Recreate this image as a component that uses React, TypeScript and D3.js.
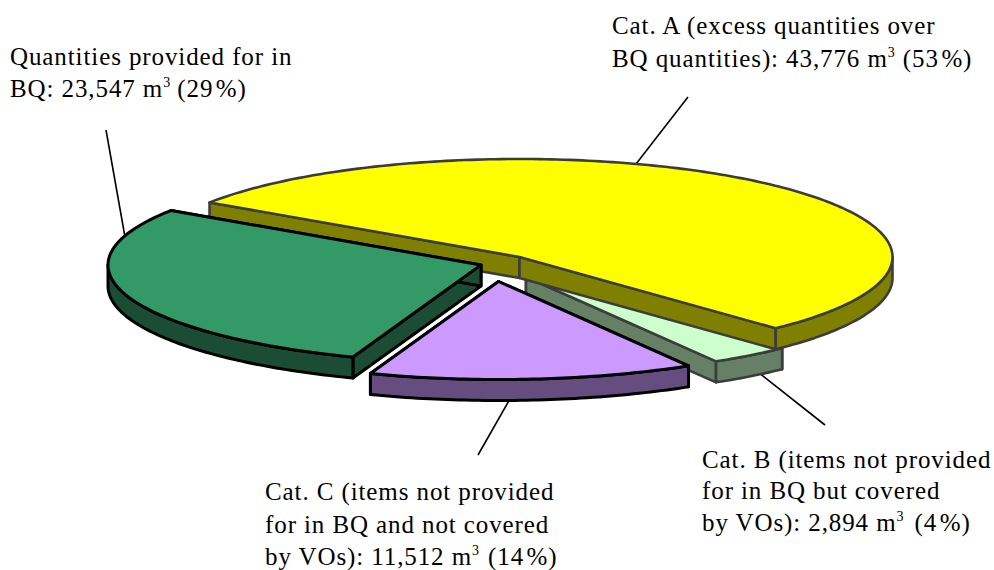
import React from "react";
import * as d3 from "d3";

// Concrete quantities by category, clockwise from Cat. A
const categories = ["Cat. A", "Cat. B", "Cat. C", "BQ"];
const quantities = [43776, 2894, 11512, 23547];
const percents = [53, 4, 14, 29];
const topFills = ["#FFFF00", "#CCFFCC", "#CC99FF", "#339966"];
const sideFills = ["#808000", "#668066", "#664D80", "#1A4D33"];
const edgeColors = ["#3C3C3C", "#3C3C3C", "#000000", "#000000"];
const edgeWidths = [2.6, 2.6, 3, 3];

const labelLead: string[][] = [
  ["Cat. A (excess quantities over", "BQ quantities): "],
  ["Cat. B (items not provided", "for in BQ but covered", "by VOs): "],
  ["Cat. C (items not provided", "for in BQ and not covered", "by VOs): "],
  ["Quantities provided for in", "BQ: "],
];

// Layout of the tilted pie
const W = 994;
const H = 570;
const RX = 373;
const RY = 98;
const DEPTH = 21;
const START = (-146.2 * Math.PI) / 180;
const apexes: [number, number][] = [
  [519.5, 257],
  [526, 277],
  [498.5, 281.5],
  [481, 265],
];
const labelAnchors: [number, number][] = [
  [612, 34],
  [702, 468],
  [265, 500],
  [10, 65],
];
const lineGaps = [33, 31.3, 32.5, 32];
const parenShift = [0, 3, 1, -1];
const leaders: [number, number, number, number][] = [
  [688, 97, 636, 164],
  [758, 372, 825, 425],
  [511, 397, 478, 455],
  [106, 130, 125, 237],
];

const sx = d3.scaleLinear().domain([-1, 1]).range([-RX, RX]);
const sy = d3.scaleLinear().domain([-1, 1]).range([-RY, RY]);
const polyline = d3.line<[number, number]>();

const slices = d3
  .pie<number>()
  .sort(null)
  .startAngle(START)
  .endAngle(START + 2 * Math.PI)(quantities);

function rimPoints(i: number, a0: number, a1: number, dy = 0): [number, number][] {
  const [cx, cy] = apexes[i];
  const n = Math.max(2, Math.ceil(Math.abs(a1 - a0) * 60));
  return d3.range(n + 1).map((k) => {
    const a = a0 + ((a1 - a0) * k) / n;
    return [cx + sx(Math.cos(a)), cy + sy(Math.sin(a)) + dy] as [number, number];
  });
}

function Slice({ i }: { i: number }) {
  const { startAngle: a0, endAngle: a1 } = slices[i];
  const [cx, cy] = apexes[i];
  const apex: [number, number] = [cx, cy];
  const apexLow: [number, number] = [cx, cy + DEPTH];
  const rim = rimPoints(i, a0, a1);
  const first = rim[0];
  const last = rim[rim.length - 1];
  const low = (p: [number, number]): [number, number] => [p[0], p[1] + DEPTH];

  // The outer wall only shows along the front half of the ellipse
  const f0 = Math.max(a0, 0);
  const f1 = Math.min(a1, Math.PI);
  const wall = f1 > f0 ? [...rimPoints(i, f0, f1), ...rimPoints(i, f1, f0, DEPTH)] : null;

  const common = {
    stroke: edgeColors[i],
    strokeWidth: edgeWidths[i],
    strokeLinejoin: "round" as const,
  };
  return (
    <g>
      <path d={polyline([apex, first, low(first), apexLow])! + "Z"} fill={sideFills[i]} {...common} />
      <path d={polyline([apex, last, low(last), apexLow])! + "Z"} fill={sideFills[i]} {...common} />
      {wall && <path d={polyline(wall)! + "Z"} fill={sideFills[i]} {...common} />}
      <path d={polyline([apex, ...rim])! + "Z"} fill={topFills[i]} {...common} />
    </g>
  );
}

function Label({ i }: { i: number }) {
  const [x, y] = labelAnchors[i];
  const lead = labelLead[i];
  const last = lead.length - 1;
  const gap = lineGaps[i];
  return (
    <text
      x={x}
      y={y}
      fontFamily="'Liberation Serif', serif"
      fontSize={25}
      fill="#000"
      style={{ letterSpacing: "0.9px", whiteSpace: "pre" }}
    >
      {lead.map((line, k) =>
        k < last ? (
          <tspan key={k} x={x} y={y + k * gap}>
            {line}
          </tspan>
        ) : (
          <tspan key={k} x={x} y={y + k * gap}>
            {line}
            {d3.format(",")(quantities[i])} m
            <tspan fontSize={14} dy={-10}>3</tspan>
            <tspan dy={10} dx={parenShift[i]}> ({percents[i]}</tspan>
            <tspan dx={2.5}>%)</tspan>
          </tspan>
        )
      )}
    </text>
  );
}

export default function App() {
  // Painter's order: mint sits under yellow, green and purple sit on top
  const order = [1, 0, 3, 2];
  return (
    <svg
      width={W}
      height={H}
      viewBox={`0 0 ${W} ${H}`}
      style={{ position: "absolute", left: 0, top: 0, display: "block", background: "#fff" }}
      aria-label={categories.join(", ")}
    >
      {leaders.map(([x1, y1, x2, y2], k) => (
        <line key={k} x1={x1} y1={y1} x2={x2} y2={y2} stroke="#000" strokeWidth={1.6} />
      ))}
      {order.map((i) => (
        <Slice key={i} i={i} />
      ))}
      {order.map((i) => (
        <Label key={i} i={i} />
      ))}
    </svg>
  );
}
